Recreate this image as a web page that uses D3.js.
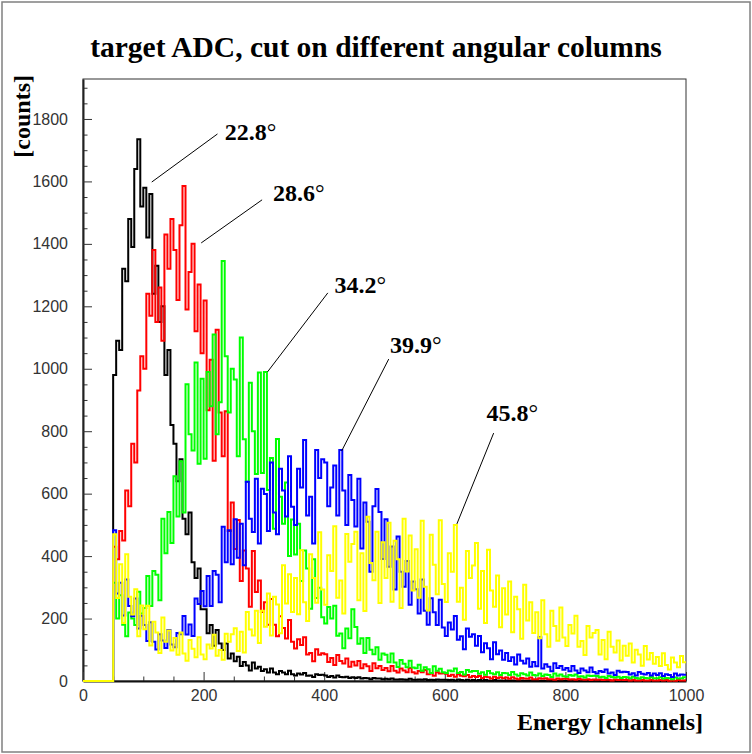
<!DOCTYPE html>
<html>
<head>
<meta charset="utf-8">
<script src="https://cdn.jsdelivr.net/npm/d3@7"></script>
<style>
html, body { margin: 0; padding: 0; background: #fff; }
svg { display: block; }
</style>
</head>
<body>
<svg id="chart" width="752" height="754"></svg>
<script>
// bins: 5 channels wide, first bin starts at channel 50
var binStart = 50,
    binWidth = 5;

var counts228 = [
  980, 1090, 1060, 1320, 1280, 1480, 1390, 1640, 1735, 1520,
  1580, 1420, 1560, 1240, 1330, 1150, 1200, 980, 1060, 820,
  760, 640, 710, 520, 470, 540, 380, 330, 360, 230,
  230, 153, 179, 113, 163, 120, 99, 120, 72, 88,
  63, 78, 48, 61, 50, 34, 59, 40, 46, 32,
  38, 27, 40, 27, 22, 32, 27, 22, 33, 22,
  18, 24, 21, 26, 17, 18, 13, 22, 19, 20,
  18, 13, 16, 11, 18, 13, 12, 14, 10, 12,
  10, 12, 8, 10, 9, 6, 10, 8, 8, 6,
  7, 6, 8, 5, 5, 6, 5, 4, 7, 4,
  4, 5, 4, 6, 3, 4, 3, 5, 4, 4,
  4, 3, 4, 2, 5, 3, 2, 4, 2, 3,
  2, 3, 2, 3, 2, 1, 3, 2, 2, 1,
  2, 1, 2, 1, 1, 2, 1, 1, 2, 1,
  1, 1, 0, 1, 2, 0, 1, 1, 0, 1,
  0, 1, 1, 0, 1, 0, 0, 1, 0, 1,
  1, 0, 0, 1, 0, 1, 0, 0, 1, 0,
  0, 1, 0, 0, 1, 0, 0, 0, 1, 0,
  0, 0, 1, 0, 0, 1, 0, 0, 0, 1
];

var counts286 = [
  430, 390, 480, 450, 610, 560, 760, 700, 930, 1040,
  1000, 1240, 1170, 1380, 1150, 1260, 1090, 1430, 1320, 1480,
  1380, 1220, 1460, 1585, 1190, 1310, 1400, 1120, 1270, 1050,
  1219, 867, 1029, 705, 1125, 860, 720, 864, 480, 572,
  423, 516, 320, 418, 360, 238, 416, 285, 322, 221,
  252, 180, 263, 180, 143, 207, 170, 136, 195, 126,
  104, 134, 115, 140, 85, 90, 63, 102, 84, 89,
  86, 61, 74, 51, 83, 64, 56, 72, 46, 62,
  50, 64, 41, 54, 47, 32, 57, 41, 48, 35,
  42, 31, 48, 33, 27, 40, 34, 28, 42, 28,
  24, 32, 28, 35, 22, 24, 17, 28, 24, 25,
  23, 16, 20, 14, 22, 17, 15, 19, 12, 16,
  13, 16, 10, 14, 12, 8, 14, 10, 12, 9,
  11, 7, 12, 8, 6, 10, 8, 7, 11, 6,
  6, 9, 7, 9, 6, 6, 4, 8, 6, 7,
  7, 5, 6, 4, 7, 5, 4, 6, 3, 5,
  4, 5, 3, 4, 4, 2, 5, 3, 4, 3,
  4, 2, 4, 2, 2, 3, 2, 2, 4, 2,
  2, 3, 2, 3, 1, 2, 1, 3, 2, 2
];

var counts342 = [
  315, 200, 275, 180, 143, 219, 200, 179, 286, 216,
  234, 336, 240, 352, 340, 259, 520, 409, 541, 442,
  656, 527, 704, 540, 950, 790, 738, 1020, 696, 968,
  712, 990, 880, 1110, 790, 893, 1345, 1040, 860, 1000,
  966, 720, 1100, 774, 638, 955, 800, 663, 988, 666,
  990, 612, 714, 488, 775, 590, 504, 636, 400, 517,
  405, 504, 320, 418, 360, 231, 390, 266, 299, 204,
  184, 237, 200, 241, 145, 152, 105, 168, 137, 230,
  173, 119, 137, 90, 138, 100, 86, 108, 68, 88,
  84, 60, 88, 59, 45, 67, 55, 44, 65, 43,
  41, 52, 33, 44, 38, 26, 47, 33, 39, 28,
  26, 34, 31, 40, 26, 29, 21, 35, 30, 32,
  32, 23, 28, 20, 32, 25, 22, 28, 19, 26,
  25, 19, 29, 21, 17, 25, 22, 18, 27, 19,
  18, 24, 16, 21, 19, 13, 24, 17, 21, 15,
  14, 19, 17, 21, 14, 15, 11, 18, 16, 17,
  16, 12, 14, 10, 16, 13, 11, 14, 10, 13,
  12, 9, 14, 10, 8, 12, 10, 9, 13, 9,
  9, 12, 8, 10, 9, 6, 11, 8, 9, 12
];

var counts399 = [
  483, 280, 315, 210, 325, 240, 207, 264, 168, 209,
  179, 128, 188, 126, 101, 150, 130, 106, 163, 117,
  108, 154, 150, 208, 149, 181, 144, 264, 247, 288,
  239, 336, 240, 352, 340, 252, 494, 380, 483, 374,
  518, 395, 504, 371, 638, 520, 477, 648, 440, 616,
  599, 480, 700, 540, 470, 680, 610, 527, 720, 558,
  500, 680, 620, 772, 530, 590, 440, 740, 650, 710,
  700, 560, 620, 690, 530, 740, 610, 500, 660, 580,
  495, 648, 424, 572, 510, 350, 560, 615, 541, 391,
  518, 366, 431, 293, 463, 350, 302, 384, 244, 319,
  294, 216, 325, 225, 180, 265, 220, 179, 260, 171,
  144, 187, 165, 208, 132, 143, 102, 168, 142, 150,
  113, 144, 92, 121, 105, 70, 124, 86, 98, 68,
  90, 64, 76, 53, 85, 65, 56, 72, 46, 61,
  47, 140, 40, 54, 46, 31, 57, 42, 48, 36,
  42, 31, 48, 34, 26, 40, 34, 28, 43, 29,
  24, 32, 29, 37, 24, 27, 19, 33, 28, 30,
  29, 21, 25, 18, 29, 23, 21, 26, 18, 24,
  19, 25, 16, 22, 19, 13, 24, 18, 21, 20
];

var counts458 = [
  470, 266, 374, 186, 406, 270, 213, 294, 143, 242,
  166, 241, 114, 190, 155, 90, 203, 126, 162, 98,
  138, 84, 155, 88, 65, 131, 103, 76, 140, 85,
  70, 117, 104, 148, 81, 99, 68, 151, 126, 150,
  169, 96, 158, 91, 221, 165, 146, 225, 122, 225,
  174, 280, 146, 270, 245, 153, 371, 248, 342, 221,
  330, 214, 419, 252, 192, 406, 330, 251, 476, 293,
  244, 403, 352, 496, 267, 322, 216, 471, 382, 439,
  478, 259, 409, 224, 526, 378, 323, 478, 250, 444,
  330, 507, 254, 449, 390, 234, 520, 351, 466, 290,
  422, 267, 513, 302, 226, 468, 372, 278, 515, 311,
  253, 409, 350, 500, 254, 299, 196, 416, 330, 370,
  442, 231, 352, 186, 420, 290, 238, 338, 172, 297,
  213, 319, 156, 270, 230, 135, 308, 194, 252, 154,
  220, 137, 259, 150, 110, 225, 176, 129, 235, 139,
  112, 179, 152, 209, 110, 128, 83, 176, 139, 154,
  163, 85, 131, 70, 158, 110, 91, 130, 66, 113,
  81, 120, 59, 100, 85, 49, 112, 69, 90, 55,
  77, 48, 89, 51, 37, 75, 59, 44, 80, 60
];

var seriesNames = ['22.8', '28.6', '34.2', '39.9', '45.8'];
var seriesColors = ['#000000', '#ff0000', '#00ff00', '#0000ff', '#ffff00'];
var seriesCounts = [counts228, counts286, counts342, counts399, counts458];

var xTicks = [0, 200, 400, 600, 800, 1000];
var yTicks = [0, 200, 400, 600, 800, 1000, 1200, 1400, 1600, 1800];

// label arrows: from (channel, counts) near the curve to the label corner
var labelFrom = [[114, 1598], [196, 1403], [306, 990], [429, 737], [620, 503]];
var labelTo = [[223, 1752], [297, 1541], [406, 1243], [507, 1031], [681, 794]];
var labelAt = [[235, 1733], [315, 1537], [417, 1243], [509, 1051], [669, 833]];

var serif = '"Liberation Serif", "Times New Roman", Times, serif',
    sans = '"Liberation Sans", Arial, Helvetica, sans-serif';

var svg = d3.select('#chart'),
    W = 752, H = 754,
    frame = { left: 83, right: 686, top: 79, bottom: 681 };

var x = d3.scaleLinear().domain([0, 1000]).range([frame.left, frame.right]),
    y = d3.scaleLinear().domain([0, 1928]).range([frame.bottom, frame.top]);

svg.append('rect').attr('width', W).attr('height', H).attr('fill', '#fff');

// canvas border
svg.append('rect')
  .attr('x', 2).attr('y', 2).attr('width', W - 4).attr('height', H - 4)
  .attr('fill', 'none').attr('stroke', '#808080').attr('stroke-width', 1.5);

// title
svg.append('text')
  .attr('x', W / 2).attr('y', 57)
  .attr('text-anchor', 'middle')
  .style('font-family', serif).style('font-weight', 'bold').style('font-size', '29.5px')
  .text('target ADC, cut on different angular columns');

// frame
svg.append('rect')
  .attr('x', frame.left).attr('y', frame.top)
  .attr('width', frame.right - frame.left).attr('height', frame.bottom - frame.top)
  .attr('fill', 'none').attr('stroke', '#333').attr('stroke-width', 1);

// y axis (ticks inside)
var yMinor = d3.range(0, 1928, 50).filter(function(v) { return v % 200 !== 0; });
svg.append('g')
  .attr('transform', 'translate(' + frame.left + ',0)')
  .call(d3.axisLeft(y).tickValues(yMinor).tickSize(-4.5).tickFormat(''))
  .call(function(g) { g.select('.domain').remove(); g.selectAll('line').attr('stroke', '#333'); });
var yAxis = svg.append('g')
  .attr('transform', 'translate(' + frame.left + ',0)')
  .call(d3.axisLeft(y).tickValues(yTicks).tickFormat(d3.format('d'))
    .tickSizeInner(-9).tickSizeOuter(0).tickPadding(15));
yAxis.select('.domain').attr('stroke', '#222').attr('stroke-width', 2);
yAxis.selectAll('line').attr('stroke', '#333');
yAxis.selectAll('text')
  .attr('fill', '#333').style('font-family', sans).style('font-size', '16px');

// x axis (ticks inside)
var xMinor = d3.range(0, 1001, 50).filter(function(v) { return v % 200 !== 0; });
svg.append('g')
  .attr('transform', 'translate(0,' + frame.bottom + ')')
  .call(d3.axisBottom(x).tickValues(xMinor).tickSize(-4.5).tickFormat(''))
  .call(function(g) { g.select('.domain').remove(); g.selectAll('line').attr('stroke', '#333'); });
var xAxis = svg.append('g')
  .attr('transform', 'translate(0,' + frame.bottom + ')')
  .call(d3.axisBottom(x).tickValues(xTicks).tickFormat(d3.format('d'))
    .tickSizeInner(-9).tickSizeOuter(0).tickPadding(9));
xAxis.select('.domain').attr('stroke', '#111').attr('stroke-width', 2);
xAxis.selectAll('line').attr('stroke', '#333');
xAxis.selectAll('text')
  .attr('fill', '#333').style('font-family', sans).style('font-size', '16px');

// axis titles
svg.append('text')
  .attr('x', 703).attr('y', 730)
  .attr('text-anchor', 'end')
  .style('font-family', serif).style('font-weight', 'bold').style('font-size', '24px')
  .text('Energy [channels]');
svg.append('text')
  .attr('transform', 'translate(30,75) rotate(-90)')
  .attr('text-anchor', 'end')
  .style('font-family', serif).style('font-weight', 'bold').style('font-size', '24px')
  .text('[counts]');

// histograms, drawn as step outlines
var line = d3.line()
  .x(function(d) { return x(d[0]); })
  .y(function(d) { return y(d[1]); })
  .curve(d3.curveStepAfter);

function histPoints(vals) {
  var pts = [[0, 0]];
  vals.forEach(function(v, i) { pts.push([binStart + i * binWidth, v]); });
  pts.push([binStart + vals.length * binWidth, vals[vals.length - 1]]);
  return pts;
}

seriesCounts.forEach(function(vals, i) {
  svg.append('path')
    .datum(histPoints(vals))
    .attr('d', line)
    .attr('fill', 'none')
    .attr('stroke', seriesColors[i])
    .attr('stroke-width', 2);
});

// angle labels
seriesNames.forEach(function(name, i) {
  svg.append('line')
    .attr('x1', x(labelFrom[i][0])).attr('y1', y(labelFrom[i][1]))
    .attr('x2', x(labelTo[i][0])).attr('y2', y(labelTo[i][1]))
    .attr('stroke', '#000').attr('stroke-width', 1);
  var t = svg.append('text')
    .attr('x', x(labelAt[i][0])).attr('y', y(labelAt[i][1]))
    .style('font-family', serif).style('font-weight', 'bold').style('font-size', '24px');
  t.append('tspan').text(name);
  t.append('tspan').style('font-weight', 'normal').text('\u00b0');
});
</script>
</body>
</html>
